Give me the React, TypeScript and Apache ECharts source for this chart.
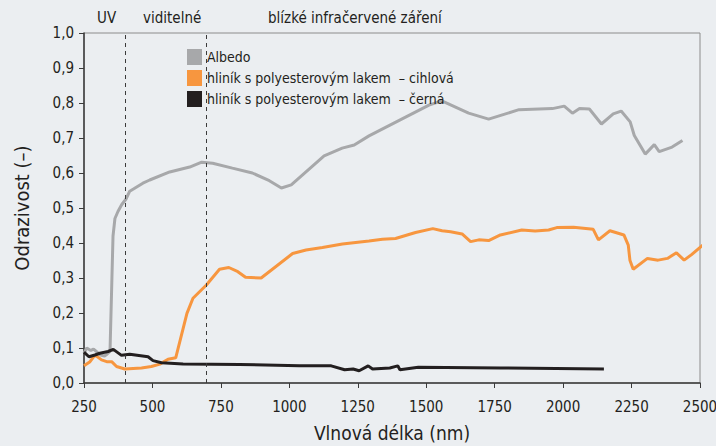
import React, { useEffect, useRef } from "react";
import * as echarts from "echarts";

const seriesNames = [
  "Albedo",
  "hliník s polyesterovým lakem  – cihlová",
  "hliník s polyesterovým lakem  – černá",
];

const albedo: [number, number][] = [
  [250, 0.085], [260, 0.1], [275, 0.093], [285, 0.097], [310, 0.08], [325, 0.077], [335, 0.083], [345, 0.09],
  [352, 0.3], [356, 0.42], [363, 0.47], [374, 0.49], [388, 0.51], [403, 0.525], [417, 0.548], [432, 0.555],
  [465, 0.571], [490, 0.58], [563, 0.603], [636, 0.617], [680, 0.631], [720, 0.628], [792, 0.614], [865, 0.6],
  [927, 0.578], [971, 0.557], [1007, 0.566], [1127, 0.649], [1193, 0.671], [1237, 0.68], [1291, 0.706],
  [1510, 0.794], [1557, 0.806], [1655, 0.771], [1728, 0.754], [1839, 0.781], [1961, 0.784], [2004, 0.791],
  [2034, 0.771], [2060, 0.784], [2096, 0.783], [2140, 0.74], [2183, 0.769], [2212, 0.777], [2245, 0.746],
  [2260, 0.707], [2300, 0.654], [2333, 0.681], [2351, 0.661], [2398, 0.674], [2436, 0.693],
];

const cihlova: [number, number][] = [
  [250, 0.049], [272, 0.061], [290, 0.08], [314, 0.066], [333, 0.061], [351, 0.061], [369, 0.047], [399, 0.04],
  [460, 0.043], [496, 0.047], [527, 0.054], [557, 0.068], [585, 0.072], [626, 0.199], [648, 0.242], [697, 0.28],
  [745, 0.325], [779, 0.33], [812, 0.318], [840, 0.302], [897, 0.3], [1012, 0.37], [1061, 0.38], [1121, 0.387],
  [1194, 0.397], [1291, 0.406], [1340, 0.411], [1388, 0.413], [1461, 0.43], [1524, 0.441], [1558, 0.435],
  [1589, 0.432], [1631, 0.426], [1662, 0.404], [1692, 0.409], [1728, 0.407], [1771, 0.423], [1849, 0.437],
  [1898, 0.434], [1947, 0.437], [1977, 0.444], [2038, 0.445], [2110, 0.439], [2129, 0.409], [2171, 0.435],
  [2222, 0.423], [2238, 0.394], [2244, 0.351], [2256, 0.325], [2308, 0.356], [2347, 0.351], [2381, 0.356],
  [2414, 0.372], [2442, 0.351], [2468, 0.366], [2510, 0.394],
];

const cerna: [number, number][] = [
  [250, 0.088], [268, 0.075], [290, 0.08], [308, 0.085], [338, 0.09], [357, 0.096], [387, 0.079], [417, 0.082],
  [484, 0.075], [502, 0.064], [533, 0.058], [612, 0.054], [818, 0.053], [1036, 0.049], [1153, 0.049],
  [1202, 0.038], [1233, 0.04], [1255, 0.035], [1288, 0.049], [1304, 0.04], [1367, 0.043], [1396, 0.049],
  [1404, 0.038], [1471, 0.045], [1772, 0.043], [2149, 0.04],
];

const regionBounds = [400, 695];
const regionLabels = ["UV", "viditelné", "blízké infračervené záření"];

const xTitle = "Vlnová délka (nm)";
const yTitle = "Odrazivost (–)";

const FONT = "'Liberation Sans Narrow', 'DejaVu Sans Condensed', 'Roboto Condensed', 'Liberation Sans', sans-serif";

export default function App() {
  const ref = useRef<HTMLDivElement>(null);
  useEffect(() => {
    if (!ref.current) return;
    const chart = echarts.init(ref.current, null, { renderer: "svg" });
    chart.setOption({
      animation: false,
      backgroundColor: "#ebeef1",
      textStyle: { fontFamily: FONT },
      grid: {
        left: 84, top: 33, right: 16, bottom: 63,
        containLabel: false, outerBoundsMode: "none",
        show: true, borderColor: "#8c8c8c", borderWidth: 1, backgroundColor: "transparent",
      },
      legend: {
        orient: "vertical", left: 187, top: 49, padding: 0, itemWidth: 15, itemHeight: 16, itemGap: 5,
        icon: "rect", selectedMode: false,
        textStyle: { fontFamily: FONT, fontSize: 14, color: "#231f20", padding: [0, 0, 0, 0] },
        data: seriesNames,
      },
      graphic: [
        { type: "text", left: 97, top: 10, style: { text: regionLabels[0], font: `15px ${FONT}`, fill: "#231f20" } },
        { type: "text", left: 143, top: 10, style: { text: regionLabels[1], font: `15px ${FONT}`, fill: "#231f20" } },
        { type: "text", left: 268, top: 10, style: { text: regionLabels[2], font: `15px ${FONT}`, fill: "#231f20" } },
      ],
      xAxis: {
        type: "value", min: 250, max: 2500, interval: 250,
        name: xTitle, nameLocation: "middle", nameGap: 40,
        nameTextStyle: { fontFamily: FONT, fontSize: 19, color: "#231f20" },
        axisLine: { lineStyle: { color: "#3a3a3a", width: 1.5 } },
        axisTick: { show: true, length: 5, lineStyle: { color: "#3a3a3a" } },
        axisLabel: {
          fontFamily: FONT, fontSize: 15, color: "#231f20", margin: 16,
          formatter: (v: number) => String(v),
        },
        splitLine: { show: false },
      },
      yAxis: {
        type: "value", min: 0, max: 1, interval: 0.1,
        name: yTitle, nameLocation: "middle", nameGap: 52,
        nameTextStyle: { fontFamily: FONT, fontSize: 20, color: "#231f20" },
        axisLine: { show: true, lineStyle: { color: "#3a3a3a", width: 1.5 } },
        axisTick: { show: true, length: 5, lineStyle: { color: "#3a3a3a" } },
        axisLabel: {
          fontFamily: FONT, fontSize: 15, color: "#231f20", margin: 10,
          formatter: (v: number) => v.toFixed(1).replace(".", ","),
        },
        splitLine: { show: false },
      },
      series: [
        {
          name: seriesNames[0], type: "line", data: albedo, showSymbol: false, symbol: "none",
          lineStyle: { color: "#a7a8aa", width: 3 }, itemStyle: { color: "#a7a8aa" },
          markLine: {
            silent: true, symbol: "none", label: { show: false },
            lineStyle: { color: "#3a3a3a", type: [4, 4], width: 1 },
            data: regionBounds.map((b) => ({ xAxis: b })),
          },
        },
        {
          name: seriesNames[1], type: "line", data: cihlova, showSymbol: false, symbol: "none", clip: false,
          lineStyle: { color: "#f7963f", width: 3 }, itemStyle: { color: "#f7963f" },
        },
        {
          name: seriesNames[2], type: "line", data: cerna, showSymbol: false, symbol: "none",
          lineStyle: { color: "#231f20", width: 3 }, itemStyle: { color: "#231f20" },
        },
      ],
    });
    return () => chart.dispose();
  }, []);
  return <div ref={ref} style={{ width: 716, height: 446, position: "absolute", left: 0, top: 0 }} />;
}
